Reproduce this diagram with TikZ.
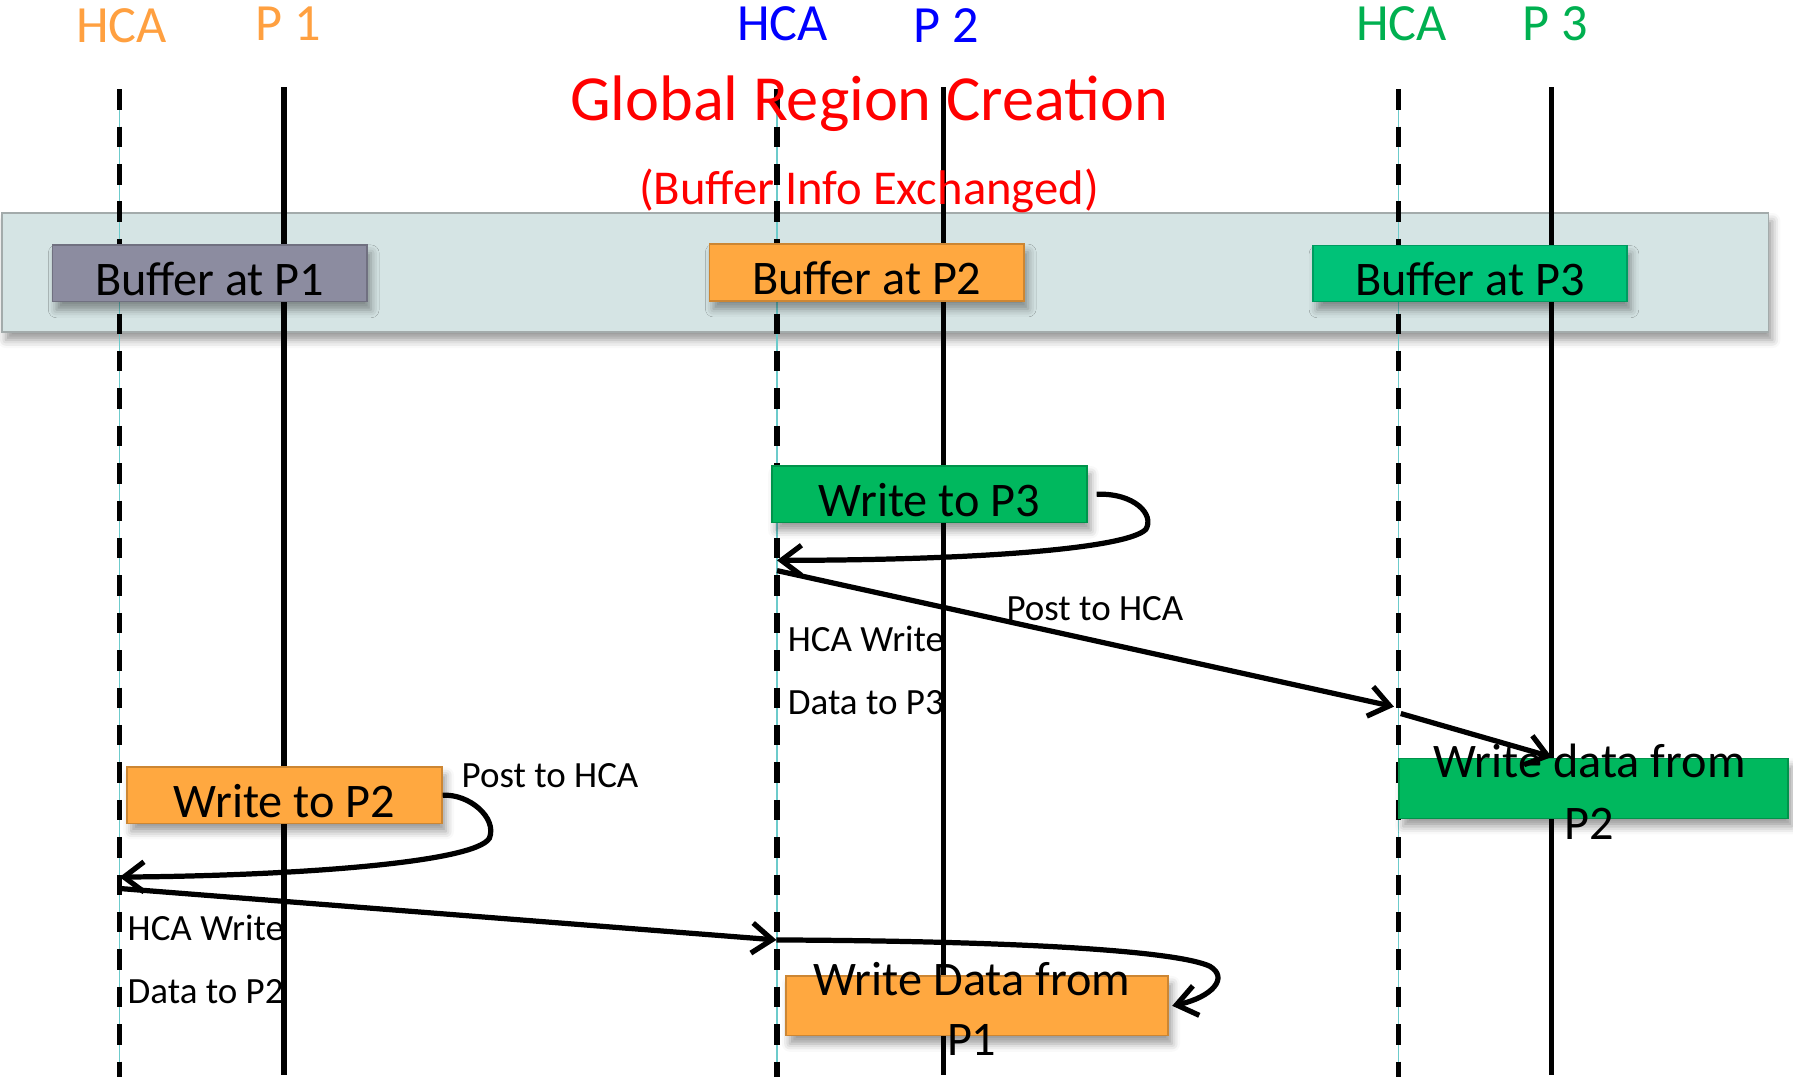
\documentclass[tikz,border=0pt]{standalone}
\usepackage{fontspec}
\setmainfont{Carlito}
\usetikzlibrary{arrows.meta,shadows.blur}
\tikzset{line cap=round,line join=round}

\definecolor{lblorange}{HTML}{FFA040}
\definecolor{lblgreen}{HTML}{00B050}
\definecolor{bandfill}{HTML}{D5E4E4}
\definecolor{bandline}{HTML}{A3ABAB}
\definecolor{bufgray}{HTML}{8C8CA0}
\definecolor{boxorange}{HTML}{FFA840}
\definecolor{boxgreen}{HTML}{00B85E}
\definecolor{bufgreen}{HTML}{00C278}
\definecolor{hcathin}{HTML}{6CCBCB}

\tikzset{
  lbl/.style={anchor=base,font=\fontsize{13}{15}\selectfont},
  soft/.style={blur shadow={shadow xshift=1pt,shadow yshift=-2pt,shadow blur radius=2pt,shadow opacity=40}},
  box/.style={draw=#1!80!black,fill=#1,inner sep=0pt,soft,text height=11pt,text depth=0pt,
    font=\fontsize{12}{14}\selectfont},
  note/.style={inner sep=0pt,font=\fontsize{9.2}{11}\selectfont},
  msg/.style={line width=1.3pt,->},
}

\begin{document}
\begin{tikzpicture}[x=0.01cm,y=-0.01cm,>={Straight Barb[length=5pt,width=7.5pt]}]
    \useasboundingbox (0,0) rectangle (1568,942);
    % band holding the exchanged buffers
    \node[name=band,draw=bandline,fill=bandfill,minimum width=15.44cm,minimum height=1.04cm,inner sep=0pt,soft] at (774,238.3) {};
    % lifelines
    \foreach \nm/\x in {H1/104.6,H2/679.5,H3/1223}{%
    \coordinate (\nm-top) at (\x,78);
    \coordinate (\nm-bot) at (\x,942);
    \draw[hcathin,line width=0.4pt] (\nm-top) -- (\nm-bot);
    \draw[line width=1.4pt,line cap=butt,dash pattern=on 5.1pt off 4.2pt] (\nm-top) -- (\nm-bot);
    }
    \foreach \nm/\x in {P1/248.2,P2/825,P3/1357}{%
    \coordinate (\nm-top) at (\x,76.5);
    \coordinate (\nm-bot) at (\x,940);
    \draw[line width=1.35pt,line cap=butt] (\nm-top) -- (\nm-bot);
    }
    % heads
    \node[lbl,text=lblorange] (L-H1) at (106.4,37.3) {HCA};
    \node[lbl,text=lblorange] (L-P1) at (251.8,35) {P 1};
    \node[lbl,text=blue] (L-H2) at (684.4,35) {HCA};
    \node[lbl,text=blue] (L-P2) at (827.2,37.3) {P 2};
    \node[lbl,text=lblgreen] (L-H3) at (1225.6,35) {HCA};
    \node[lbl,text=lblgreen] (L-P3) at (1360.4,35.6) {P 3};
    \node[anchor=base,text=red,font=\fontsize{16}{18}\selectfont] (title) at (760,105.5) {Global Region Creation};
    \node[anchor=base,text=red,font=\fontsize{12.1}{14}\selectfont] (subtitle) at (760,178.4) {(Buffer Info Exchanged)};
    % buffers
    \node[box=bufgray,minimum width=2.75cm,minimum height=0.496cm] (B1) at (183.4,239) {Buffer at P1};
    \node[box=boxorange,minimum width=2.75cm,minimum height=0.496cm] (B2) at (758,238.3) {Buffer at P2};
    \node[box=bufgreen,minimum width=2.74cm,minimum height=0.49cm] (B3) at (1285.5,239.3) {Buffer at P3};
    % writes
    \node[box=boxgreen,minimum width=2.75cm,minimum height=0.493cm] (W3) at (812.8,432.2) {Write to P3};
    \node[box=boxorange,minimum width=2.75cm,minimum height=0.49cm] (W2) at (248.9,695.5) {Write to P2};
    \node[box=boxgreen,minimum width=3.4cm,minimum height=0.524cm] (D2) at (1393.7,689.4) {};
    \node[box=boxorange,minimum width=3.34cm,minimum height=0.522cm] (D1) at (854.3,879.6) {};
    % points on the lifelines
    \coordinate (H2-a) at (679.5,490);
    \coordinate (H2-b) at (679.5,499);
    \coordinate (H3-a) at (1219,618);
    \coordinate (H3-b) at (1225,624);
    \coordinate (P3-a) at (1357,662);
    \coordinate (H1-a) at (104.6,767);
    \coordinate (H1-b) at (104.6,777);
    \coordinate (H2-c) at (679,822);
    % messages
    \draw[msg] ([xshift=0.08cm]W3.east) .. controls (992,431) and (1010,450) .. (1002,463)
        .. controls (985,480) and (850,490) .. (H2-a);
    \draw[msg] (H2-b) -- (H3-a);
    \draw[msg] (H3-b) -- (P3-a);
    \draw[msg] (W2.east) .. controls (410,694) and (435,715) .. (428,733)
        .. controls (415,755) and (250,766) .. (H1-a);
    \draw[msg] (H1-b) -- (H2-c);
    \draw[msg] (H2-c) .. controls (900,823) and (1030,832) .. (1058,845)
        .. controls (1075,855) and (1060,872) .. ([xshift=0.03cm]D1.east);
    % texts
    \node[note,anchor=base west] (post3) at (879.5,542.2) {Post to HCA};
    \node[note,anchor=base west] (post2) at (403,688.8) {Post to HCA};
    \node[note,anchor=west,align=left,font=\fontsize{9.2}{15.8}\selectfont] (hw3) at (688.3,586.3) {HCA Write\\Data to P3};
    \node[note,anchor=west,align=left,font=\fontsize{9.2}{15.5}\selectfont] (hw2) at (111,838.9) {HCA Write\\Data to P2};
    \node[inner sep=0pt,align=center,font=\fontsize{12}{15.2}\selectfont] (D2-txt) at (1390,692.4) {Write data from\\P2};
    \node[inner sep=0pt,align=center,font=\fontsize{12}{15}\selectfont] (D1-txt) at (849.8,882.3) {Write Data from\\P1};
\end{tikzpicture}
\end{document}
